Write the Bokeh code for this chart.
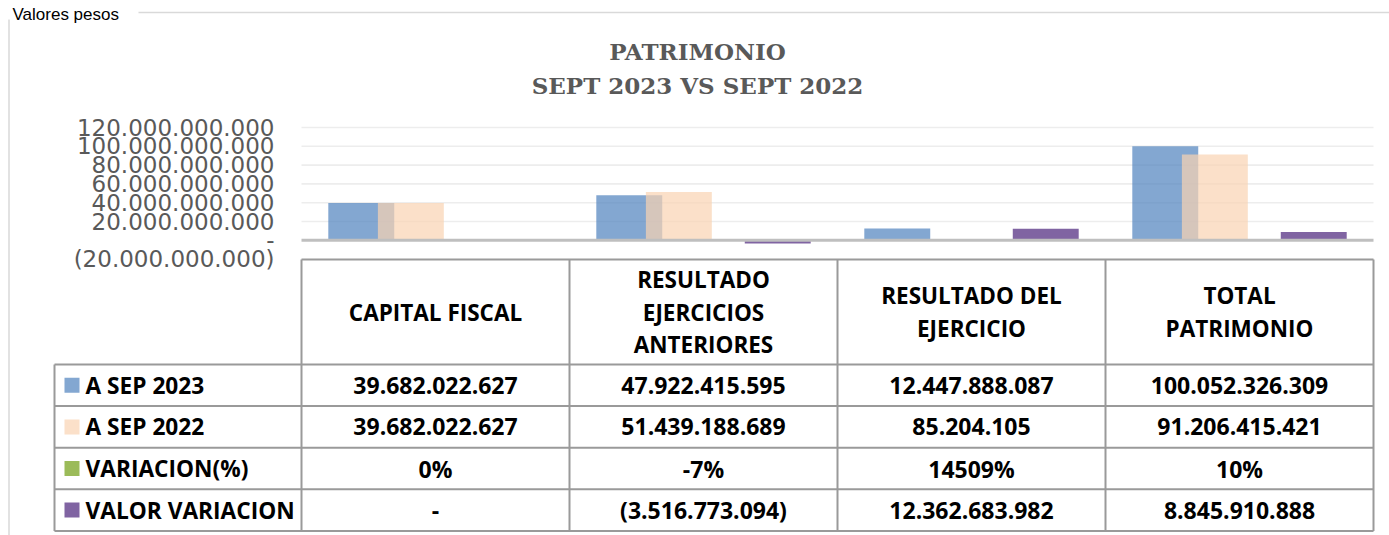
from bokeh.plotting import figure
from bokeh.models import Range1d, LinearAxis, FixedTicker, CustomJSTickFormatter, Grid
from bokeh.core.properties import value
from bokeh.embed import file_html
from bokeh.resources import INLINE

# ---------------- data ----------------
categories = ["CAPITAL FISCAL", "RESULTADO\nEJERCICIOS\nANTERIORES",
              "RESULTADO DEL\nEJERCICIO", "TOTAL\nPATRIMONIO"]
series = ["A SEP 2023", "A SEP 2022", "VARIACION(%)", "VALOR VARIACION"]
sep_2023 = [39682022627, 47922415595, 12447888087, 100052326309]
sep_2022 = [39682022627, 51439188689, 85204105, 91206415421]
variacion_pct = [0, -7, 14509, 10]
valor_variacion = [0, -3516773094, 12362683982, 8845910888]
y_ticks = [-20e9, 0, 20e9, 40e9, 60e9, 80e9, 100e9, 120e9]
title_lines = ["PATRIMONIO", "SEPT 2023 VS SEPT 2022"]
note = "Valores pesos"

# ---------------- layout (page pixels) ----------------
W, H = 1389, 535
OX, OY = 0, 0
CAT_X0, CAT_W = 301, 268
ZERO_Y = 239.8
PX_PER_UNIT = 18.8 / 20e9
HEADER_TOP, HEADER_BOT, ROW_H = 259, 364, 41.6
LEGEND_X0 = 54

blue, peach, green, purple = "#4F81BD", "#F9D3B2", "#9BBB59", "#8064A2"
alphas = [0.7, 0.7, 1.0, 1.0]
colors = [blue, peach, green, purple]
offsets = [-0.277, -0.092, 0.092, 0.277]
bar_w = 0.246

x_start = (OX - CAT_X0) / CAT_W
x_end = (OX + W - CAT_X0) / CAT_W
y_end = (ZERO_Y - OY) / PX_PER_UNIT
y_start = -(OY + H - ZERO_Y) / PX_PER_UNIT

p = figure(width=W, height=H, x_range=Range1d(x_start, x_end), y_range=Range1d(y_start, y_end),
           output_backend="svg", toolbar_location=None, tools="",
           x_axis_location=None, y_axis_location=None, min_border=0, title=None)
p.outline_line_color = None
p.background_fill_color = "white"
p.border_fill_color = "white"
for g in p.select(type=Grid):
    g.visible = False
p.extra_x_ranges = {"px": Range1d(OX, OX + W)}
p.extra_y_ranges = {"px": Range1d(OY + H, OY)}

n = len(categories)

# gridlines
pos_ticks = [t for t in y_ticks if t > 0]
p.segment(x0=[0] * len(pos_ticks), x1=[n] * len(pos_ticks), y0=pos_ticks, y1=pos_ticks,
          line_color="#EDEDED", line_width=1.6)

# bars
bar_values = [sep_2023, sep_2022, [v / 100 for v in variacion_pct], valor_variacion]
for k, vals in enumerate(bar_values):
    xs = [i + 0.5 + offsets[k] for i in range(n)]
    p.vbar(x=xs, top=vals, bottom=0, width=bar_w, fill_color=colors[k], fill_alpha=alphas[k],
           line_color=None)

# zero line
p.segment(x0=[0], x1=[n], y0=[0], y1=[0], line_color="#BFBFBF", line_width=3)

# y axis
fmt = CustomJSTickFormatter(code=r"""
const v = Math.round(tick);
if (v === 0) { return "-"; }
const s = Math.abs(v).toString().replace(/\B(?=(\d{3})+(?!\d))/g, ".");
return v < 0 ? "(" + s + ")" : s;
""")
yaxis = LinearAxis(fixed_location=0, ticker=FixedTicker(ticks=y_ticks), formatter=fmt,
                   axis_line_color=None, major_tick_line_color=None, minor_tick_line_color=None,
                   major_tick_in=0, major_tick_out=0, minor_tick_in=0, minor_tick_out=0,
                   major_label_standoff=27, major_label_text_font="DejaVu Sans",
                   major_label_text_font_size="23px", major_label_text_color="#595959")
p.add_layout(yaxis, "left")

# title
p.text(x=[697, 697], y=[51, 85], text=title_lines, x_range_name="px", y_range_name="px",
       text_align="center", text_baseline="middle", text_font=value("DejaVu Serif"),
       text_font_style="bold", text_font_size="23px", text_color="#595959")

# note + chart border (gap in the top edge behind the note)
p.text(x=[12], y=[13.5], text=[note], x_range_name="px", y_range_name="px",
       text_align="left", text_baseline="alphabetic", text_font=value("Liberation Sans"),
       text_font_size="17px", text_color="#000000")
p.segment(x0=[138, 8.5], x1=[OX + W, 8.5], y0=[12, 19], y1=[12, OY + H], x_range_name="px",
          y_range_name="px", line_color="#D9D9D9", line_width=1.5)

# ---------------- data table ----------------
def fmt_num(v):
    if v == 0:
        return "-"
    s = f"{abs(v):,}".replace(",", ".")
    return f"({s})" if v < 0 else s

def fmt_pct(v):
    return f"{v}%"

col_x = [CAT_X0 + (i + 0.5) * CAT_W for i in range(n)]
col_edges = [CAT_X0 + i * CAT_W for i in range(n + 1)]
row_edges = [HEADER_BOT + k * ROW_H for k in range(len(series) + 1)]
tab_bot = row_edges[-1]
line_c = "#9A9A9A"

p.segment(x0=[col_edges[0]], x1=[col_edges[-1]], y0=[HEADER_TOP], y1=[HEADER_TOP],
          x_range_name="px", y_range_name="px", line_color=line_c, line_width=2)
p.segment(x0=col_edges, x1=col_edges, y0=[HEADER_TOP] * len(col_edges), y1=[tab_bot] * len(col_edges),
          x_range_name="px", y_range_name="px", line_color=line_c, line_width=2)
p.segment(x0=[LEGEND_X0] * len(row_edges), x1=[col_edges[-1]] * len(row_edges), y0=row_edges, y1=row_edges,
          x_range_name="px", y_range_name="px", line_color=line_c, line_width=2)
p.segment(x0=[LEGEND_X0], x1=[LEGEND_X0], y0=[row_edges[0]], y1=[tab_bot],
          x_range_name="px", y_range_name="px", line_color=line_c, line_width=2)

# header texts
hx, hy, ht = [], [], []
mid = (HEADER_TOP + HEADER_BOT) / 2
for i, c in enumerate(categories):
    lines = c.split("\n")
    for j, ln in enumerate(lines):
        hx.append(col_x[i])
        hy.append(mid + (j - (len(lines) - 1) / 2) * 32.3)
        ht.append(ln)
p.text(x=hx, y=hy, text=ht, x_range_name="px", y_range_name="px", text_align="center",
       text_baseline="middle", text_font=value("Open Sans"), text_font_style="bold",
       text_font_size="22.5px", text_color="#000000")

# body
row_vals = [[fmt_num(v) for v in sep_2023], [fmt_num(v) for v in sep_2022],
            [fmt_pct(v) for v in variacion_pct], [fmt_num(v) for v in valor_variacion]]
bx, by, bt = [], [], []
for k, vals in enumerate(row_vals):
    yc = row_edges[k] + ROW_H / 2
    for i, t in enumerate(vals):
        bx.append(col_x[i]); by.append(yc); bt.append(t)
p.text(x=bx, y=by, text=bt, x_range_name="px", y_range_name="px", text_align="center",
       text_baseline="middle", text_font=value("Open Sans"), text_font_style="bold",
       text_font_size="23px", text_color="#000000")

# legend column
ry = [row_edges[k] + ROW_H / 2 for k in range(len(series))]
p.rect(x=[71.5] * len(series), y=ry, width=15, height=15, fill_color=colors, fill_alpha=alphas,
       line_color=None, x_range_name="px", y_range_name="px")
p.text(x=[85] * len(series), y=ry, text=series, x_range_name="px", y_range_name="px",
       text_align="left", text_baseline="middle", text_font=value("Open Sans"),
       text_font_style="bold", text_font_size="22.7px", text_color="#000000")

open("out.html", "w").write(file_html(p, INLINE))
